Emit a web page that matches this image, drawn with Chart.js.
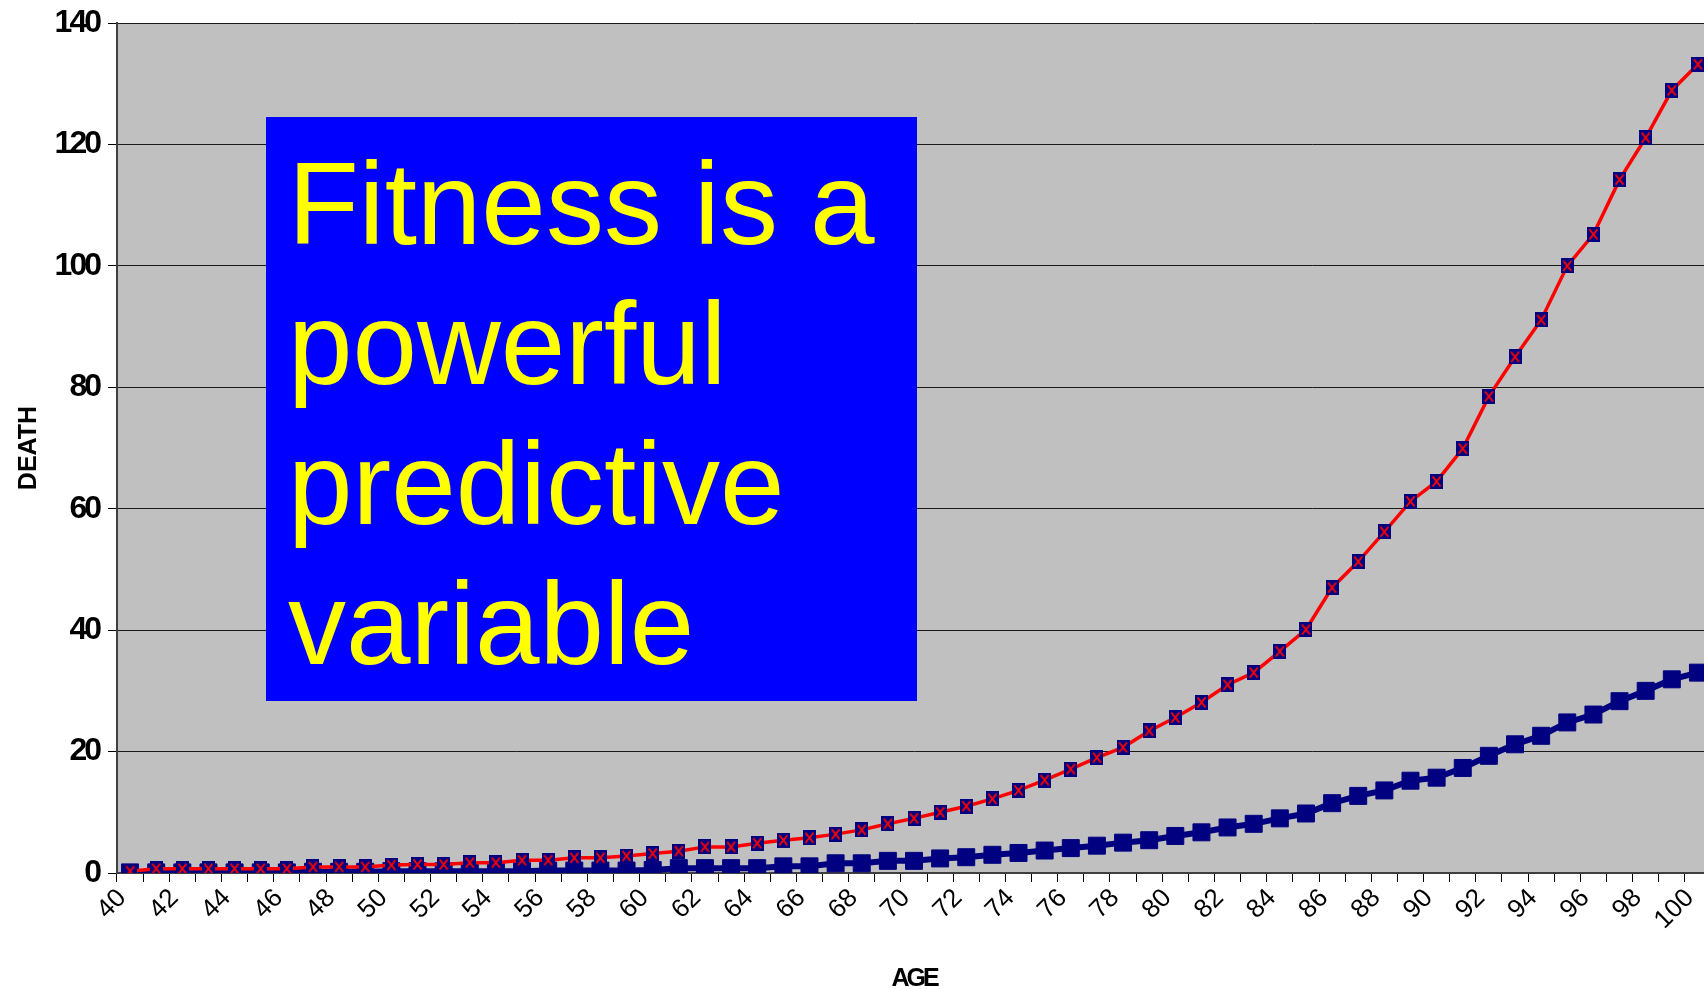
<!DOCTYPE html>
<html lang="en">
<head>
  <meta charset="UTF-8" />
  <title>Fitness and death by age</title>
  <script src="https://cdn.jsdelivr.net/npm/chart.js"></script>
  <style>
    html, body {
      margin: 0;
      background: white;
      overflow: hidden;
      width: 1704px;
      height: 989px;
    }

    #deathChart {
      position: absolute;
      left: 0;
      top: 0;
    }

    .callout {
      position: absolute;
      left: 266px;
      top: 117px;
      width: 651px;
      height: 584px;
      box-sizing: border-box;
      padding: 17px 0 0 22px;
      background: #0000ff;
      color: #ffff00;
      font-family: 'Liberation Sans', Arial, sans-serif;
      font-size: 116px;
      line-height: 140px;
    }
  </style>
</head>
<body>
  <canvas id="deathChart" width="1724" height="989"></canvas>
  <div class="callout">Fitness is a<br>powerful<br>predictive<br>variable</div>

  <script>
    const ages = [40, 41, 42, 43, 44, 45, 46, 47, 48, 49,
                  50, 51, 52, 53, 54, 55, 56, 57, 58, 59,
                  60, 61, 62, 63, 64, 65, 66, 67, 68, 69,
                  70, 71, 72, 73, 74, 75, 76, 77, 78, 79,
                  80, 81, 82, 83, 84, 85, 86, 87, 88, 89,
                  90, 91, 92, 93, 94, 95, 96, 97, 98, 99, 100];

    // red line, x markers
    const unfitDeaths = [0.3, 0.7, 0.7, 0.7, 0.7, 0.7, 0.7, 1.0, 1.0, 1.0,
                         1.3, 1.4, 1.4, 1.7, 1.7, 2.1, 2.1, 2.5, 2.5, 2.8,
                         3.2, 3.6, 4.3, 4.3, 4.9, 5.4, 5.8, 6.4, 7.1, 8.1,
                         9.0, 10.0, 11.0, 12.2, 13.6, 15.3, 17.1, 19.0, 20.7, 23.4,
                         25.6, 28.1, 31.0, 33.0, 36.5, 40.1, 47.0, 51.3, 56.2, 61.2,
                         64.5, 69.9, 78.5, 85.0, 91.1, 100.0, 105.2, 114.2, 121.1, 128.9, 133.2];

    // thick navy line, square markers
    const fitDeaths = [0.1, 0.1, 0.1, 0.1, 0.1, 0.1, 0.1, 0.2, 0.2, 0.2,
                       0.3, 0.3, 0.3, 0.3, 0.3, 0.3, 0.4, 0.4, 0.4, 0.4,
                       0.5, 0.8, 0.8, 0.8, 0.8, 1.1, 1.1, 1.6, 1.6, 2.0,
                       2.0, 2.4, 2.6, 3.0, 3.3, 3.7, 4.1, 4.5, 5.0, 5.4,
                       6.1, 6.7, 7.5, 8.1, 9.0, 9.8, 11.5, 12.7, 13.6, 15.2,
                       15.7, 17.3, 19.3, 21.2, 22.6, 24.8, 26.1, 28.3, 30.0, 31.9, 33.0];

    const yTicks = [0, 20, 40, 60, 80, 100, 120, 140];

    // navy box with a red x, like the old excel marker
    const xMarker = document.createElement('canvas');
    xMarker.width = 13;
    xMarker.height = 15;
    const mctx = xMarker.getContext('2d');
    mctx.fillStyle = '#000080';
    mctx.fillRect(0, 0, 13, 15);
    mctx.strokeStyle = '#ff0000';
    mctx.lineWidth = 2;
    mctx.beginPath();
    mctx.moveTo(2.5, 2.5);
    mctx.lineTo(10.5, 12.5);
    mctx.moveTo(10.5, 2.5);
    mctx.lineTo(2.5, 12.5);
    mctx.stroke();

    const plotBackground = {
      id: 'plotBackground',
      beforeDraw(chart) {
        const a = chart.chartArea;
        chart.ctx.save();
        chart.ctx.fillStyle = '#c0c0c0';
        chart.ctx.fillRect(a.left, a.top, a.right - a.left, a.bottom - a.top);
        chart.ctx.restore();
      }
    };

    // no narrow font installed, so squeeze the bold texts a bit
    function squeeze(scale, method) {
      if (scale['_sq_' + method]) return;
      const orig = scale[method];
      scale[method] = function (...args) {
        this.ctx.save();
        this.ctx.letterSpacing = '-3px';
        orig.apply(this, args);
        this.ctx.restore();
      };
      scale['_sq_' + method] = true;
    }

    const narrowText = {
      id: 'narrowText',
      afterLayout(chart) {
        squeeze(chart.scales.y, 'drawLabels');
        squeeze(chart.scales.x, 'drawTitle');
      }
    };

    const sans = "'Liberation Sans', Arial, sans-serif";

    new Chart(document.getElementById('deathChart'), {
      type: 'line',
      data: {
        labels: ages,
        datasets: [
          {
            data: unfitDeaths,
            borderColor: '#ff0000',
            borderWidth: 3.5,
            pointStyle: xMarker,
            tension: 0
          },
          {
            data: fitDeaths,
            borderColor: '#000080',
            borderWidth: 6,
            pointStyle: 'rect',
            pointRadius: 12,
            pointBorderWidth: 1,
            pointBackgroundColor: '#000080',
            pointBorderColor: '#000080',
            tension: 0
          }
        ]
      },
      options: {
        responsive: false,
        animation: false,
        events: [],
        layout: { padding: { top: 23, right: 11, left: 0, bottom: 0 } },
        plugins: {
          legend: { display: false },
          tooltip: { enabled: false }
        },
        scales: {
          x: {
            type: 'category',
            offset: true,
            afterFit(scale) { scale.height = 116; },
            grid: {
              offset: true,
              drawOnChartArea: false,
              tickLength: 9,
              tickColor: '#000'
            },
            border: { color: '#404040', width: 2 },
            ticks: {
              autoSkip: false,
              minRotation: 45,
              maxRotation: 45,
              padding: 1,
              labelOffset: -8,
              color: '#000',
              font: { family: sans, size: 26 },
              callback: (v, i) => (ages[i] % 2 === 0 ? ages[i] : '')
            },
            title: {
              display: true,
              text: 'AGE',
              color: '#000',
              font: { family: sans, size: 25, weight: 'bold', lineHeight: 0.8 },
              padding: { top: 0, bottom: 0 }
            }
          },
          y: {
            min: 0,
            max: 140,
            afterFit(scale) {
              scale.width = 117;
              scale.paddingTop = 0;
              scale.paddingBottom = 0;
            },
            afterBuildTicks(scale) { scale.ticks = yTicks.map(v => ({ value: v })); },
            grid: {
              color: '#1a1a1a',
              lineWidth: 1,
              tickLength: 9,
              tickColor: '#000'
            },
            border: { color: '#404040', width: 2 },
            ticks: {
              padding: 9,
              color: '#000',
              font: { family: sans, size: 32, weight: 'bold' }
            },
            title: {
              display: true,
              text: 'DEATH',
              color: '#000',
              font: { family: sans, size: 25, weight: 'bold' },
              padding: { top: 14, bottom: 0 }
            }
          }
        }
      },
      plugins: [plotBackground, narrowText]
    });
  </script>
</body>
</html>
